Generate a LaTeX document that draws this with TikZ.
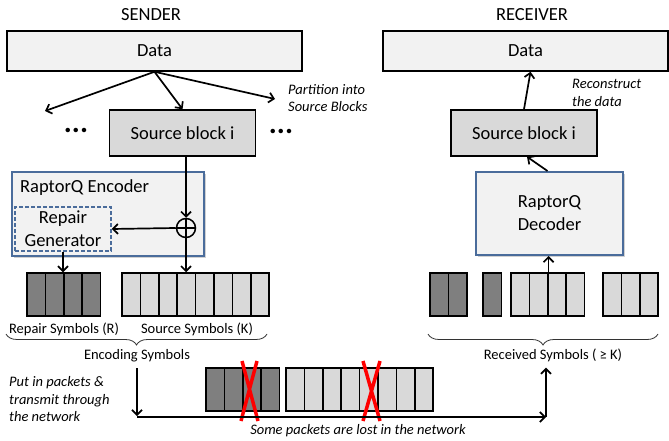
\documentclass[tikz,border=0pt]{standalone}
\usepackage{fontspec}
\setmainfont{Carlito}
\usetikzlibrary{arrows.meta,shadows,decorations.pathreplacing}
\definecolor{boxgray}{HTML}{F2F2F2}
\definecolor{blkgray}{HTML}{D9D9D9}
\definecolor{symdark}{HTML}{7F7F7F}
\definecolor{enccol}{HTML}{4A6C9B}
\newcommand{\bigtxt}{\fontsize{18.5}{23}\selectfont}
\newcommand{\smtxt}{\fontsize{14.5}{17.5}\selectfont}
\begin{document}
\begin{tikzpicture}[x=1pt,y=-1pt,inner sep=0pt,
  arr/.style={-{Straight Barb[length=5pt,width=10pt]},line width=1.7pt},
  databox/.style={draw,line width=1.5pt,fill=boxgray,minimum height=40pt,font=\bigtxt},
  blkbox/.style={draw,line width=1.5pt,fill=blkgray,minimum width=146pt,minimum height=46pt,font=\bigtxt},
  encbox/.style={draw=enccol,line width=2pt,fill=boxgray,font=\bigtxt,align=center,
    drop shadow={shadow xshift=2pt,shadow yshift=-2pt,opacity=.3,fill=black!60}},
  repbox/.style={draw=enccol,dashed,dash pattern=on 4pt off 2pt,line width=1.5pt,
    minimum width=96pt,minimum height=44pt,font=\bigtxt,align=center},
  xorsym/.style={circle,draw,line width=1.5pt,minimum size=19pt,
    path picture={\draw[line width=1.5pt] (path picture bounding box.north) -- (path picture bounding box.south)
      (path picture bounding box.west) -- (path picture bounding box.east);}},
  cell/.style={draw,line width=1.5pt,minimum width=18.4pt,minimum height=43pt},
  darkcell/.style={cell,fill=symdark},
  lightcell/.style={cell,fill=blkgray},
  lbl/.style={font=\smtxt},
  note/.style={font=\smtxt\itshape,align=left},
  dots/.style={font=\fontsize{30}{30}\selectfont\bfseries},
  brc/.style={decorate,decoration={brace,mirror,amplitude=11pt},line width=.8pt,draw=black!80},
  lost/.style={draw=red,line width=3.5pt}]
\useasboundingbox (0,0) rectangle (669,441);

% sender
\node[font=\bigtxt] (sendtitle) at (151,15) {SENDER};
\node[databox,minimum width=295pt] (sdata) at (154.5,51) {Data};
\node[blkbox] (sblk) at (182.5,133) {Source block i};
\node[dots] (ldots) at (76,130) {...};
\node[dots] (rdots) at (281,131) {...};
\coordinate (lpart) at (45,111);
\coordinate (rpart) at (275,99);
\node[note,anchor=west] (partlbl) at (288,98) {Partition into\\Source Blocks};
\draw[arr] (sdata.south) -- (lpart);
\draw[arr] (sdata.south) -- (sblk.north);
\draw[arr] (sdata.south) -- (rpart);

\node[encbox,minimum width=192pt,minimum height=84pt] (enc) at (108,214) {};
\node[font=\bigtxt,anchor=west] (enctitle) at (20,188) {RaptorQ Encoder};
\node[repbox] (rep) at (63,229) {Repair\\Generator};
\node[xorsym] (xor) at (186,228) {};

\foreach \i in {1,...,4}
  \node[darkcell] (r\i) at ({27+18.4*(\i-0.5)},294.5) {};
\foreach \i in {1,...,8}
  \node[lightcell] (s\i) at ({122+18.4*(\i-0.5)},294.5) {};

\draw[arr] (xor.north |- sblk.south) -- (xor.north);
\draw[arr] (xor.west) -- (rep.east);
\draw[arr] (xor.south) -- (xor.south |- s4.north);
\draw[arr] (rep.south) -- (rep.south |- r2.north east);

\node[lbl] (replbl) at (64,329) {Repair Symbols (R)};
\node[lbl] (srclbl) at (197,329) {Source Symbols (K)};
\coordinate (ebl) at (6,334);
\coordinate (ebr) at (267,334);
\draw[brc] (ebl) -- (ebr);
\node[lbl] (enclbl) at (137,356) {Encoding Symbols};

% receiver
\node[font=\bigtxt] (recvtitle) at (532,15) {RECEIVER};
\node[databox,minimum width=285pt] (rdata) at (525.5,51) {Data};
\node[blkbox] (rblk) at (524,133) {Source block i};
\node[note,anchor=west] (reclbl) at (572,93) {Reconstruct\\the data};
\node[encbox,minimum width=147pt,minimum height=83pt] (dec) at (549.5,213.5) {RaptorQ\\Decoder};
\draw[arr] (rblk.north) -- ([xshift=5pt]rdata.south);
\draw[arr] ([xshift=-2pt]dec.north) -- ([xshift=3pt]rblk.south);

\foreach \i in {1,2}
  \node[darkcell] (g\i) at ({430+18.4*(\i-0.5)},294.5) {};
\node[darkcell] (h1) at (492.2,294.5) {};
\foreach \i in {1,...,4}
  \node[lightcell] (v\i) at ({511+18.4*(\i-0.5)},294.5) {};
\foreach \i in {1,2,3}
  \node[lightcell] (w\i) at ({603+18.4*(\i-0.5)},294.5) {};
\draw[arr] (v2.north east) -- (v2.north east |- dec.south);

\coordinate (rbl) at (428,334);
\coordinate (rbr) at (658,334);
\draw[brc] (rbl) -- (rbr);
\node[lbl] (rcvlbl) at (553,355) {Received Symbols ( ≥ K)};

% network
\node[note,anchor=west] (putlbl) at (9,399.5) {Put in packets \&\\transmit through\\the network};
\foreach \i in {1,...,4}
  \node[darkcell] (p\i) at ({206+18.4*(\i-0.5)},389.5) {};
\foreach \i in {1,...,8}
  \node[lightcell] (q\i) at ({286+18.4*(\i-0.5)},389.5) {};
\draw[lost] (242,361) -- (258,421) (257,361) -- (241,421);
\draw[lost] (363,361) -- (380,421) (380,361) -- (363,421);
\coordinate (sendpt) at (137,417);
\coordinate (recvpt) at (546,417);
\draw[arr,shorten <=6pt] (enclbl.south) -- ([yshift=1pt]sendpt);
\draw[arr] (sendpt) -- (recvpt);
\draw[arr,shorten >=6pt] (recvpt) -- (rcvlbl.south -| recvpt);
\node[note] (lostlbl) at (358,431) {Some packets are lost in the network};
\end{tikzpicture}
\end{document}
